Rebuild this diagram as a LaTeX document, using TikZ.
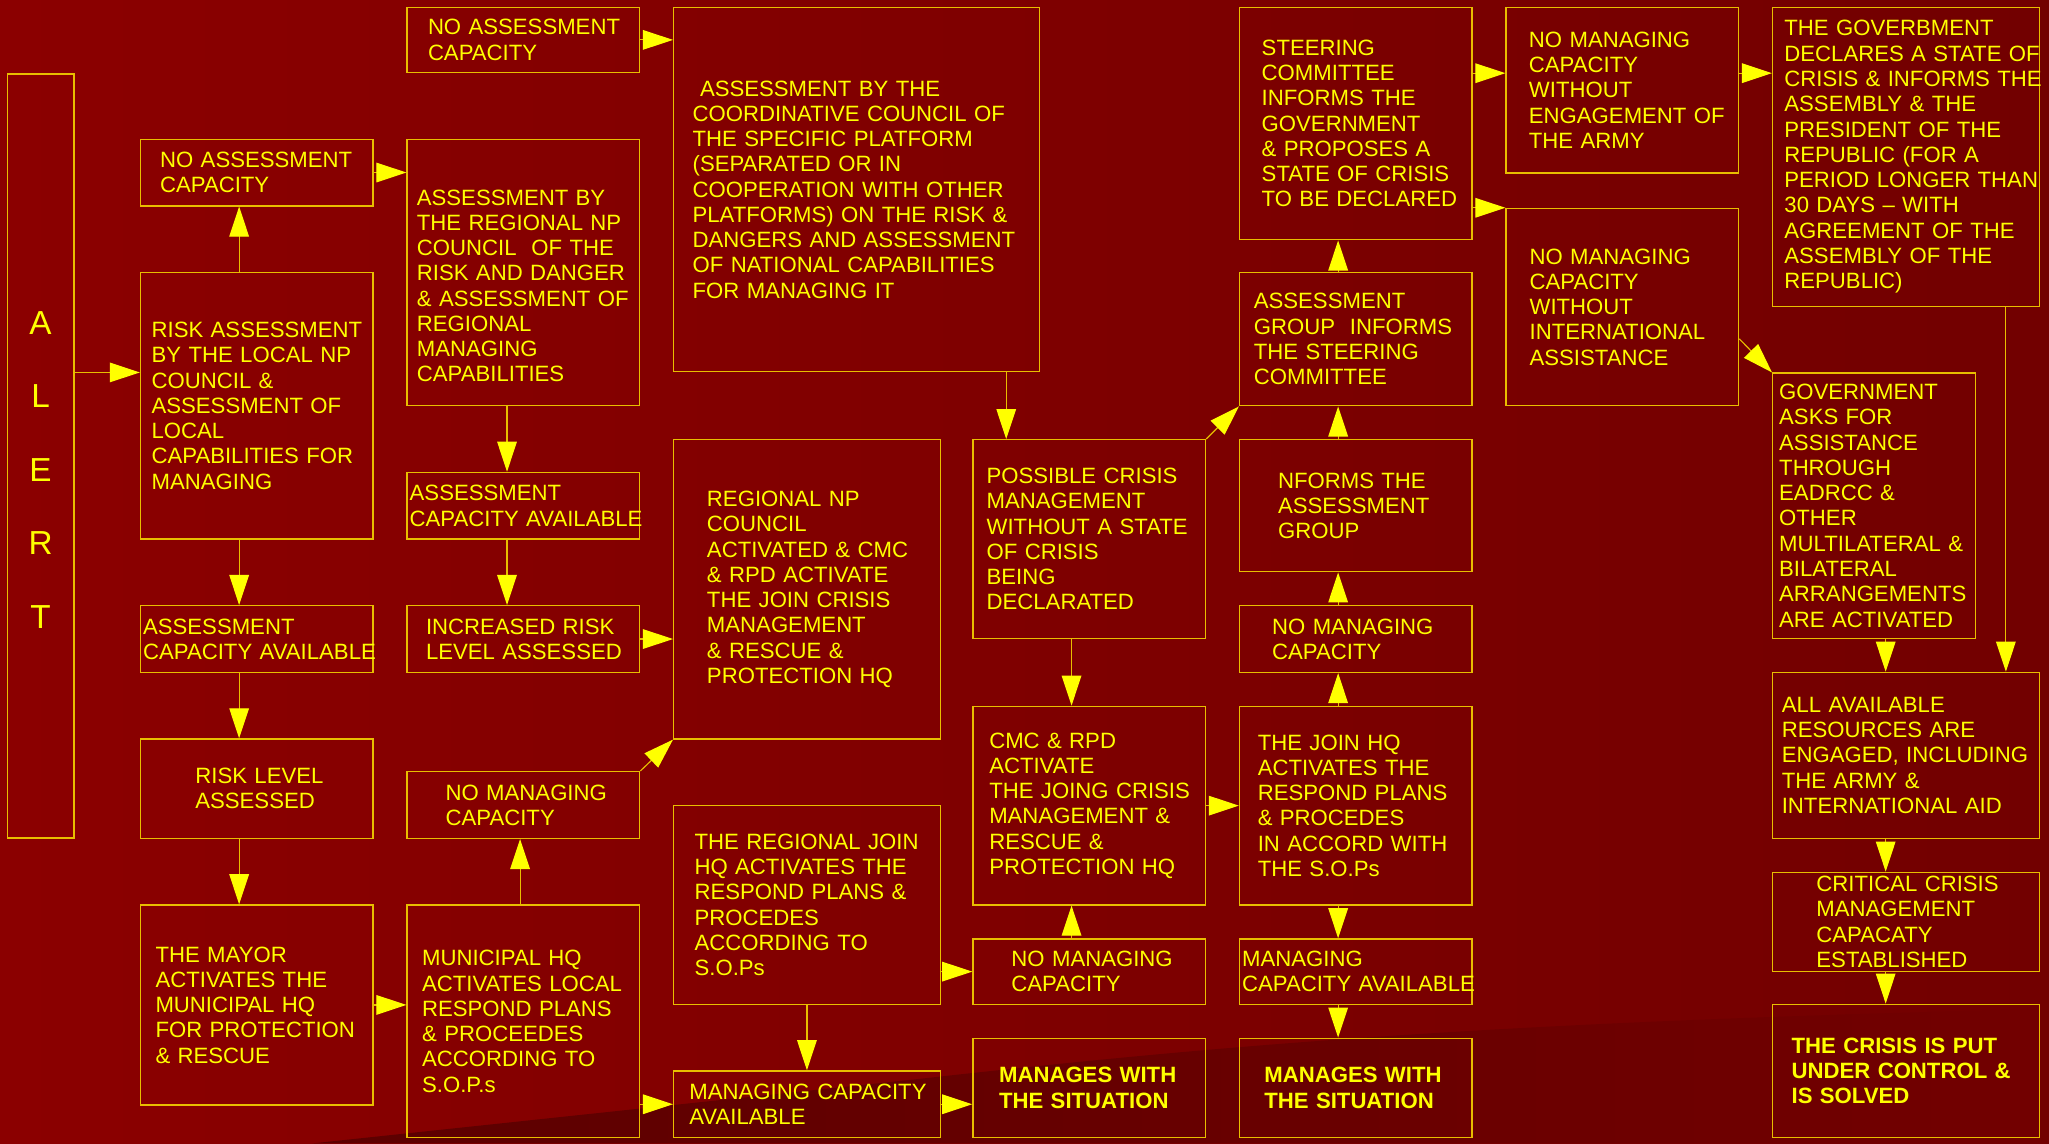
\documentclass[tikz,border=0pt]{standalone}
\usepackage{fontspec}
\setmainfont{Liberation Sans}
\usetikzlibrary{arrows.meta,calc}
\definecolor{bgleft}{RGB}{139,0,0}
\definecolor{bgright}{RGB}{114,0,0}
\definecolor{bgdark}{RGB}{92,0,0}
\definecolor{linegold}{RGB}{232,190,0}
\definecolor{textyellow}{RGB}{255,255,0}
\definecolor{tipyellow}{RGB}{255,255,0}
\newcommand\boxfont{\fontsize{9.65}{11}\selectfont}
\tikzset{
    -{Triangle[length=0.46cm,width=0.3cm,color=tipyellow]},
    every edge/.style={draw=linegold,line width=0.5pt},
    box/.style n args={3}{draw=linegold, line width=0.6pt, anchor=north west, inner sep=0pt,
        minimum width=#1, text width=#1, minimum height=#2, align=left,
        text=textyellow, font=\boxfont,
        execute at begin node={\leftskip=#3\rightskip=0pt plus 1fil minus 3cm\relax}},
    strong/.style={font=\boxfont\bfseries},
    alertbox/.style={draw=linegold, line width=0.6pt, anchor=north west, inner sep=0pt,
        minimum width=1.02cm, text width=1.02cm, minimum height=11.7cm, align=center,
        text=textyellow, font=\fontsize{14.5}{32}\selectfont, text height=0.77cm}
}

\begin{document}
\begin{tikzpicture}[x=0.02cm,y=-0.02cm]
        \useasboundingbox (0,0) rectangle (1568,875);
        \shade[left color=bgleft,right color=bgright] (0,0) rectangle (1568,875);
        \shade[left color=bgdark,right color=bgright] (239,875) -- (700,826) .. controls (950,798) and (1150,782) .. (1568,772) -- (1568,875) -- cycle;
        % lanes of the arrows that are off the box centres
        \coordinate (rowA) at (0,285);
        \coordinate (rowS) at (0,56);
        \coordinate (laneB) at (183,0);
        \coordinate (laneC) at (388,0);
        \coordinate (laneM) at (398,0);
        \coordinate (laneP) at (770,0);
        \coordinate (laneE) at (820,0);
        \coordinate (laneF) at (1024,0);
        \coordinate (laneR) at (1443,0);
        \coordinate (laneG) at (1535,0);
        % local level
        \node[alertbox] (alert) at (5,56) {A\\L\\E\\R\\T};
        \node[box={3.56cm}{1.02cm}{0.30cm}] (noassB) at (107,106) {NO ASSESSMENT\\CAPACITY};
        \node[box={3.56cm}{4.08cm}{0.17cm}] (riskass) at (107,208) {RISK ASSESSMENT\\BY THE LOCAL NP\\COUNCIL \&\\ASSESSMENT OF\\LOCAL\\CAPABILITIES FOR\\MANAGING};
        \node[box={3.56cm}{1.02cm}{0.04cm}] (acapB) at (107,463) {ASSESSMENT\\CAPACITY AVAILABLE};
        \node[box={3.56cm}{1.52cm}{0.84cm}] (risklvl) at (107,565) {RISK LEVEL\\ASSESSED};
        \node[box={3.56cm}{3.06cm}{0.23cm}] (mayor) at (107,692) {THE MAYOR\\ACTIVATES THE\\MUNICIPAL HQ\\FOR PROTECTION\\\& RESCUE};
        % regional level
        \node[box={3.56cm}{1.0cm}{0.32cm}] (noassA) at (311,5) {NO ASSESSMENT\\CAPACITY};
        \node[box={3.56cm}{4.08cm}{0.15cm},text height=0.65cm] (regass) at (311,106) {ASSESSMENT BY\\THE REGIONAL NP\\COUNCIL\ \ OF THE\\RISK AND DANGER\\\& ASSESSMENT OF\\REGIONAL\\MANAGING\\CAPABILITIES};
        \node[box={3.56cm}{1.02cm}{0.04cm}] (acapA) at (311,361) {ASSESSMENT\\CAPACITY AVAILABLE};
        \node[box={3.56cm}{1.02cm}{0.29cm}] (incrisk) at (311,463) {INCREASED RISK\\LEVEL ASSESSED};
        \node[box={3.56cm}{1.02cm}{0.59cm}] (nomanA) at (311,590) {NO MANAGING\\CAPACITY};
        \node[box={3.56cm}{3.56cm}{0.23cm}] (munhq) at (311,692) {MUNICIPAL HQ\\ACTIVATES LOCAL\\RESPOND PLANS\\\& PROCEEDES\\ACCORDING TO\\S.O.P.s};
        \node[box={5.6cm}{5.58cm}{0.29cm}] (coord) at (515,5) {\ ASSESSMENT BY THE\\COORDINATIVE COUNCIL OF\\THE SPECIFIC PLATFORM\\(SEPARATED OR IN\\COOPERATION WITH OTHER\\PLATFORMS) ON THE RISK \&\\DANGERS AND ASSESSMENT\\OF NATIONAL CAPABILITIES\\FOR MANAGING IT};
        \node[box={4.08cm}{4.58cm}{0.51cm}] (regnp) at (515,336) {REGIONAL NP\\COUNCIL\\ACTIVATED \& CMC\\\& RPD ACTIVATE\\THE JOIN CRISIS\\MANAGEMENT\\\& RESCUE \&\\PROTECTION HQ};
        \node[box={4.08cm}{3.04cm}{0.32cm}] (regjoin) at (515,616) {THE REGIONAL JOIN\\HQ ACTIVATES THE\\RESPOND PLANS \&\\PROCEDES\\ACCORDING TO\\S.O.Ps};
        \node[box={4.08cm}{1.02cm}{0.24cm}] (mcapA) at (515,819) {MANAGING CAPACITY\\AVAILABLE};
        % joint crisis management
        \node[box={3.56cm}{3.04cm}{0.21cm}] (possible) at (744,336) {POSSIBLE CRISIS\\MANAGEMENT\\WITHOUT A STATE\\OF CRISIS\\BEING\\DECLARATED};
        \node[box={3.56cm}{3.04cm}{0.25cm}] (cmc) at (744,540) {CMC \& RPD\\ACTIVATE\\THE JOING CRISIS\\MANAGEMENT \&\\RESCUE \&\\PROTECTION HQ};
        \node[box={3.56cm}{1.0cm}{0.59cm}] (nomanB) at (744,718) {NO MANAGING\\CAPACITY};
        \node[box={3.56cm}{1.52cm}{0.40cm},strong] (manA) at (744,794) {MANAGES WITH\\THE SITUATION};
        \node[box={3.56cm}{3.56cm}{0.34cm}] (steer) at (948,5) {STEERING\\COMMITTEE\\INFORMS THE\\GOVERNMENT\\\& PROPOSES A\\STATE OF CRISIS\\TO BE DECLARED};
        \node[box={3.56cm}{2.04cm}{0.22cm}] (agroup) at (948,208) {ASSESSMENT\\GROUP\ \ INFORMS\\THE STEERING\\COMMITTEE};
        \node[box={3.56cm}{2.02cm}{0.59cm}] (nforms) at (948,336) {NFORMS THE\\ASSESSMENT\\GROUP};
        \node[box={3.56cm}{1.02cm}{0.50cm}] (nomanC) at (948,463) {NO MANAGING\\CAPACITY};
        \node[box={3.56cm}{3.04cm}{0.28cm}] (joinhq) at (948,540) {THE JOIN HQ\\ACTIVATES THE\\RESPOND PLANS\\\& PROCEDES\\IN ACCORD WITH\\THE S.O.Ps};
        \node[box={3.56cm}{1.0cm}{0.04cm}] (mcapB) at (948,718) {MANAGING\\CAPACITY AVAILABLE};
        \node[box={3.56cm}{1.52cm}{0.38cm},strong] (manB) at (948,794) {MANAGES WITH\\THE SITUATION};
        % national level
        \node[box={3.56cm}{2.54cm}{0.35cm}] (armyno) at (1152,5) {NO MANAGING\\CAPACITY\\WITHOUT\\ENGAGEMENT OF\\THE ARMY};
        \node[box={3.56cm}{3.02cm}{0.36cm}] (intlno) at (1152,159) {NO MANAGING\\CAPACITY\\WITHOUT\\INTERNATIONAL\\ASSISTANCE};
        \node[box={4.08cm}{4.58cm}{0.18cm}] (govdecl) at (1356,5) {THE GOVERBMENT\\DECLARES A STATE OF\\CRISIS \& INFORMS THE\\ASSEMBLY \& THE\\PRESIDENT OF THE\\REPUBLIC (FOR A\\PERIOD LONGER THAN\\30 DAYS – WITH\\AGREEMENT OF THE\\ASSEMBLY OF THE\\REPUBLIC)};
        \node[box={3.1cm}{4.06cm}{0.10cm}] (govask) at (1356,285) {GOVERNMENT\\ASKS FOR\\ASSISTANCE\\THROUGH\\EADRCC \&\\OTHER\\MULTILATERAL \&\\BILATERAL\\ARRANGEMENTS\\ARE ACTIVATED};
        \node[box={4.08cm}{2.54cm}{0.14cm}] (allres) at (1356,514) {ALL AVAILABLE\\RESOURCES ARE\\ENGAGED, INCLUDING\\THE ARMY \&\\INTERNATIONAL AID};
        \node[box={4.08cm}{1.52cm}{0.67cm}] (critical) at (1356,667) {CRITICAL CRISIS\\MANAGEMENT\\CAPACATY\\ESTABLISHED};
        \node[box={4.08cm}{2.04cm}{0.29cm},strong] (solved) at (1356,768) {THE CRISIS IS PUT\\UNDER CONTROL \&\\IS SOLVED};
        % local path
        \path (alert.east |- rowA) edge (riskass.west |- rowA);
        \path (riskass.north -| laneB) edge (noassB.south -| laneB);
        \path (riskass.south -| laneB) edge (acapB.north -| laneB);
        \path (acapB.south -| laneB) edge (risklvl.north -| laneB);
        \path (risklvl.south -| laneB) edge (mayor.north -| laneB);
        \path (mayor.east) edge (mayor.east -| munhq.west);
        \path (munhq.north -| laneM) edge (nomanA.south -| laneM);
        % regional path
        \path (noassB.east) edge (noassB.east -| regass.west);
        \path (regass.south -| laneC) edge (acapA.north -| laneC);
        \path (acapA.south -| laneC) edge (incrisk.north -| laneC);
        \path (incrisk.east) edge (incrisk.east -| regnp.west);
        \path (nomanA.north east) edge (regnp.south west);
        \path (munhq.east |- mcapA.west) edge (mcapA.west);
        \path (regjoin.south) edge (mcapA.north);
        \path (regjoin.east |- nomanB.west) edge (nomanB.west);
        \path (mcapA.east) edge (mcapA.east -| manA.west);
        % national platform
        \path (noassA.east) edge (noassA.east -| coord.west);
        \path (coord.south -| laneP) edge (possible.north -| laneP);
        \path (possible.south -| laneE) edge (cmc.north -| laneE);
        \path (nomanB.north -| laneE) edge (cmc.south -| laneE);
        \path (possible.north east) edge (agroup.south west);
        \path (cmc.east) edge (cmc.east -| joinhq.west);
        \path (joinhq.north -| laneF) edge (nomanC.south -| laneF);
        \path (nomanC.north -| laneF) edge (nforms.south -| laneF);
        \path (nforms.north -| laneF) edge (agroup.south -| laneF);
        \path (agroup.north -| laneF) edge (steer.south -| laneF);
        \path (joinhq.south -| laneF) edge (mcapB.north -| laneF);
        \path (mcapB.south -| laneF) edge (manB.north -| laneF);
        % state of crisis
        \path (steer.east |- rowS) edge (armyno.west |- rowS);
        \path (armyno.east |- rowS) edge (govdecl.west |- rowS);
        \path (steer.east |- intlno.north west) edge (intlno.north west);
        \path ($(intlno.north east)!0.66!(intlno.south east)$) edge (govask.north west);
        \path (govdecl.south -| laneG) edge (allres.north -| laneG);
        \path (govask.south -| laneR) edge (allres.north -| laneR);
        \path (allres.south -| laneR) edge (critical.north -| laneR);
        \path (critical.south -| laneR) edge (solved.north -| laneR);
\end{tikzpicture}
\end{document}
